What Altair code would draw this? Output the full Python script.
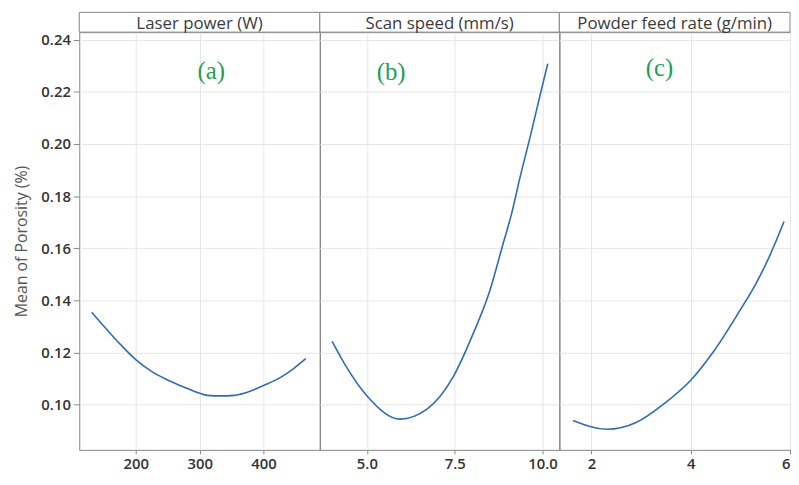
import altair as alt
import pandas as pd

# ---------------- data ----------------
panel_titles = ["Laser power (W)", "Scan speed (mm/s)", "Powder feed rate (g/min)"]
panel_tags = ["(a)", "(b)", "(c)"]

power_x = [131, 152, 173, 200, 224, 250, 276, 299, 312, 333, 354, 379, 400,
           426, 447, 466]
power_y = [0.1355, 0.1296, 0.1239, 0.1173, 0.1129, 0.1095, 0.1067, 0.1045,
           0.1036, 0.1034, 0.1036, 0.1052, 0.1074, 0.1104, 0.1139, 0.1177]

speed_x = [4.01, 4.36, 5.01, 5.95, 6.70, 7.46, 8.02, 8.49, 8.86, 9.12, 9.36,
           9.66, 10.02, 10.15]
speed_y = [0.1243, 0.1158, 0.1033, 0.0945, 0.0982, 0.1108, 0.1271, 0.1433,
           0.1609, 0.1733, 0.1872, 0.2034, 0.2237, 0.2308]

feed_x = [1.63, 2.31, 2.90, 3.49, 4.00, 4.47, 4.94, 5.33, 5.59, 5.88]
feed_y = [0.0940, 0.0906, 0.0932, 0.1008, 0.1094, 0.1207, 0.1346, 0.1470,
          0.1571, 0.1703]

tag_x = [318, 5.69, 3.37]
tag_y = [0.2278, 0.2274, 0.2293]

y_ticks = [0.10, 0.12, 0.14, 0.16, 0.18, 0.20, 0.22, 0.24]
x_ticks = [[200, 300, 400], [5.0, 7.5, 10.0], [2, 4, 6]]
x_formats = ["d", ".1f", "d"]
x_domains = [[111.6, 488.0], [3.66, 10.48], [1.353, 6.0]]
y_domain = [0.0827, 0.2429]

series = [(power_x, power_y), (speed_x, speed_y), (feed_x, feed_y)]

# ---------------- layout / style ----------------
widths = [243, 242, 233]
PLOT_H = 422
HEAD_H = 20
FONT = "Open Sans"
LINE_COLOR = "#2f6cb3"
TAG_COLOR = "#1f9e55"
FRAME = "#858585"


def panel(i):
    xs, ys = series[i]
    w = widths[i]
    df = pd.DataFrame({"x": xs, "y": ys})
    tag = pd.DataFrame({"x": [tag_x[i]], "y": [tag_y[i]], "t": [panel_tags[i]]})
    head = pd.DataFrame({"t": [panel_titles[i]]})

    x_axis = alt.Axis(
        values=x_ticks[i], format=x_formats[i], title=None, grid=True,
        labelFlush=(i == 2), tickSize=4, labelPadding=3,
        labelFontSize=15, labelFontWeight=600, labelColor="#333333",
    )
    if i == 0:
        y_axis = alt.Axis(
            values=y_ticks, format=".2f", title="Mean of Porosity (%)",
            titleFontSize=16, titleFontWeight="normal", titleColor="#555555",
            titlePadding=11, labelFontSize=15, labelFontWeight=600,
            labelColor="#333333", tickSize=6, labelPadding=3, grid=True,
        )
    else:
        y_axis = alt.Axis(values=y_ticks, labels=False, ticks=False, title=None,
                          grid=True)

    x_enc = alt.X("x:Q", scale=alt.Scale(domain=x_domains[i], nice=False, zero=False),
                  axis=x_axis)
    y_enc = alt.Y("y:Q", scale=alt.Scale(domain=y_domain, nice=False, zero=False),
                  axis=y_axis)

    line = alt.Chart(df).mark_line(color=LINE_COLOR, strokeWidth=1.6,
                                   interpolate="monotone").encode(x=x_enc, y=y_enc)
    text = alt.Chart(tag).mark_text(font="Liberation Serif", fontSize=25,
                                    color=TAG_COLOR, baseline="middle").encode(
        x=alt.X("x:Q"), y=alt.Y("y:Q"), text="t:N")
    strip = alt.Chart(head).mark_rect(fill="white", stroke=FRAME, strokeWidth=1).encode(
        x=alt.value(0), x2=alt.value(w), y=alt.value(-HEAD_H), y2=alt.value(0))
    strip_text = alt.Chart(head).mark_text(
        font=FONT, fontSize=17, color="#3a3a3a", baseline="alphabetic").encode(
        text="t:N", x=alt.value(w / 2), y=alt.value(-3))
    return alt.layer(line, text, strip, strip_text).properties(width=w, height=PLOT_H)


chart = (
    alt.hconcat(*[panel(i) for i in range(3)], spacing=0, bounds="flush")
    .properties(padding={"left": 5, "top": 1, "right": 0, "bottom": 0},
                background="white")
    .configure_view(stroke=FRAME, strokeWidth=1)
    .configure_axis(gridColor="#e6e6e6", gridWidth=1, domain=False,
                    tickColor=FRAME, labelFont=FONT, titleFont=FONT)
)

chart.save("out.html", embed_options={"renderer": "svg", "actions": False})
